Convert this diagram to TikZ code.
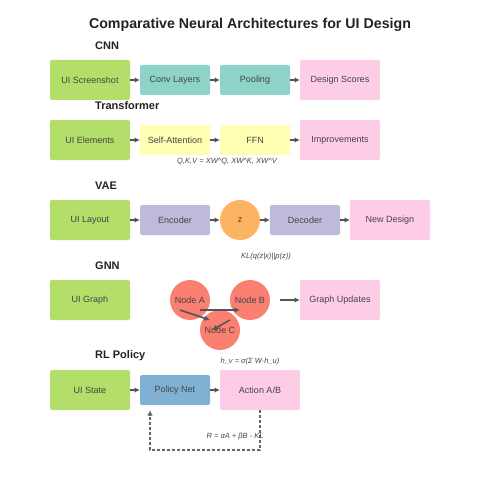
\documentclass[tikz,border=0pt]{standalone}
\usepackage{fontspec}
\setmainfont{Liberation Sans}
\usepackage{xcolor}
\usetikzlibrary{positioning}
\usetikzlibrary{calc}
\usetikzlibrary{arrows.meta}

\definecolor{uigreen}{HTML}{B3DE69}
\definecolor{convteal}{HTML}{8DD3C7}
\definecolor{attnyellow}{HTML}{FFFFB3}
\definecolor{outpink}{HTML}{FCCDE5}
\definecolor{vaelavender}{HTML}{BEBADA}
\definecolor{latentorange}{HTML}{FDB462}
\definecolor{graphsalmon}{HTML}{FB8072}
\definecolor{policyblue}{HTML}{80B1D3}
\definecolor{txtgray}{HTML}{444444}
\definecolor{arrowgray}{HTML}{555555}
\definecolor{dashgray}{HTML}{666666}
\definecolor{titlegray}{HTML}{222222}

\begin{document}
\begin{tikzpicture}[x=1pt, y=-1pt, node distance = 10pt, auto]
% tikz settings
\fontsize{9}{10}\selectfont
\tikzstyle{input} = [rectangle, fill=uigreen, rounded corners=2pt, outer sep=0pt,
    minimum width=80pt, minimum height=40pt, text=txtgray]
\tikzstyle{block} = [rectangle, rounded corners=2pt, outer sep=0pt,
    minimum width=70pt, minimum height=30pt, text=txtgray]
\tikzstyle{output} = [rectangle, fill=outpink, rounded corners=2pt, outer sep=0pt,
    minimum width=80pt, minimum height=40pt, text=txtgray]
\tikzstyle{neuron} = [circle, fill=graphsalmon, minimum size=40pt, inner sep=0pt, outer sep=0pt, text=txtgray]
\tikzstyle{heading} = [font=\bfseries\fontsize{11}{12}\selectfont, text=titlegray, inner sep=0pt, anchor=west]
\tikzstyle{formula} = [font=\itshape\fontsize{7.5}{8}\selectfont, text=txtgray, inner sep=0pt]
\tikzstyle{line} = [draw=arrowgray, line width=1.6pt, -{Latex[length=5.5pt, width=5.5pt]}]

\useasboundingbox (0,0) rectangle (500,500);

% the tikz picture
\node [font=\bfseries\fontsize{14.2}{16}\selectfont, text=titlegray] (title) at (250,25)
    {Comparative Neural Architectures for UI Design};

% CNN
\node [heading] (cnnlabel) at (95,46) {CNN};
\node [input] (screenshot) at (90,80) {UI Screenshot};
\node [block, fill=convteal, right=of screenshot] (conv) {Conv Layers};
\node [block, fill=convteal, right=of conv] (pooling) {Pooling};
\node [output, right=of pooling] (scores) {Design Scores};
\draw [line] (screenshot) -- (conv);
\draw [line] (conv) -- (pooling);
\draw [line] (pooling) -- (scores);

% Transformer
\node [heading] (translabel) at (95,106) {Transformer};
\node [input] (elements) at (90,140) {UI Elements};
\node [block, fill=attnyellow, right=of elements] (attention) {Self-Attention};
\node [block, fill=attnyellow, right=of attention] (ffn) {FFN};
\node [output, right=of ffn] (improvements) {Improvements};
\draw [line] (elements) -- (attention);
\draw [line] (attention) -- (ffn);
\draw [line] (ffn) -- (improvements);
\node [formula] (qkv) at (227,162) {Q,K,V = XW\^{}Q, XW\^{}K, XW\^{}V};

% VAE
\node [heading] (vaelabel) at (95,186) {VAE};
\node [input] (layout) at (90,220) {UI Layout};
\node [block, fill=vaelavender, right=of layout] (encoder) {Encoder};
\node [circle, fill=latentorange, minimum size=40pt, inner sep=0pt, outer sep=0pt, text=txtgray, right=of encoder] (latent) {z};
\node [block, fill=vaelavender, right=of latent] (decoder) {Decoder};
\node [output, right=of decoder] (newdesign) {New Design};
\draw [line] (layout) -- (encoder);
\draw [line] (encoder) -- (latent);
\draw [line] (latent) -- (decoder);
\draw [line] (decoder) -- (newdesign);
\node [formula] (kl) at (266,257) {KL(q(z|x)||p(z))};

% GNN
\node [heading] (gnnlabel) at (95,266) {GNN};
\node [input] (uigraph) at (90,300) {UI Graph};
\node [neuron] (nodea) at (190,300) {Node A};
\node [neuron] (nodeb) at (250,300) {Node B};
\node [neuron] (nodec) at (220,330) {Node C};
\node [output] (updates) at (340,300) {Graph Updates};
\draw [line] ($(nodea)+(10,10)$) -- ($(nodeb)+(-10,10)$);
\draw [line] ($(nodea)+(-10,10)$) -- ($(nodec)+(-10,-10)$);
\draw [line] ($(nodeb)+(-20,20)$) -- ($(nodec)+(-8,0)$);
\draw [line, shorten <=10pt] (nodeb) -- (updates);

% RL Policy
\node [heading] (rllabel) at (95,356) {RL Policy};
\node [input] (state) at (90,390) {UI State};
\node [block, fill=policyblue, right=of state] (policy) {Policy Net};
\node [output, right=of policy] (action) {Action A/B};
\draw [line] (state) -- (policy);
\draw [line] (policy) -- (action);
\node [formula] (message) at (250,362) {h\_v = σ(Σ W·h\_u)};
\coordinate (feedback) at ($(policy.south west)+(10,5)$);
\draw [line, draw=dashgray, line width=1.5pt, dash pattern=on 3pt off 2pt] (action.south) -- ++(0,40) -| (feedback);
\node [formula] (reward) at (235,437) {R = αA + βB - KL};
\end{tikzpicture}
\end{document}
